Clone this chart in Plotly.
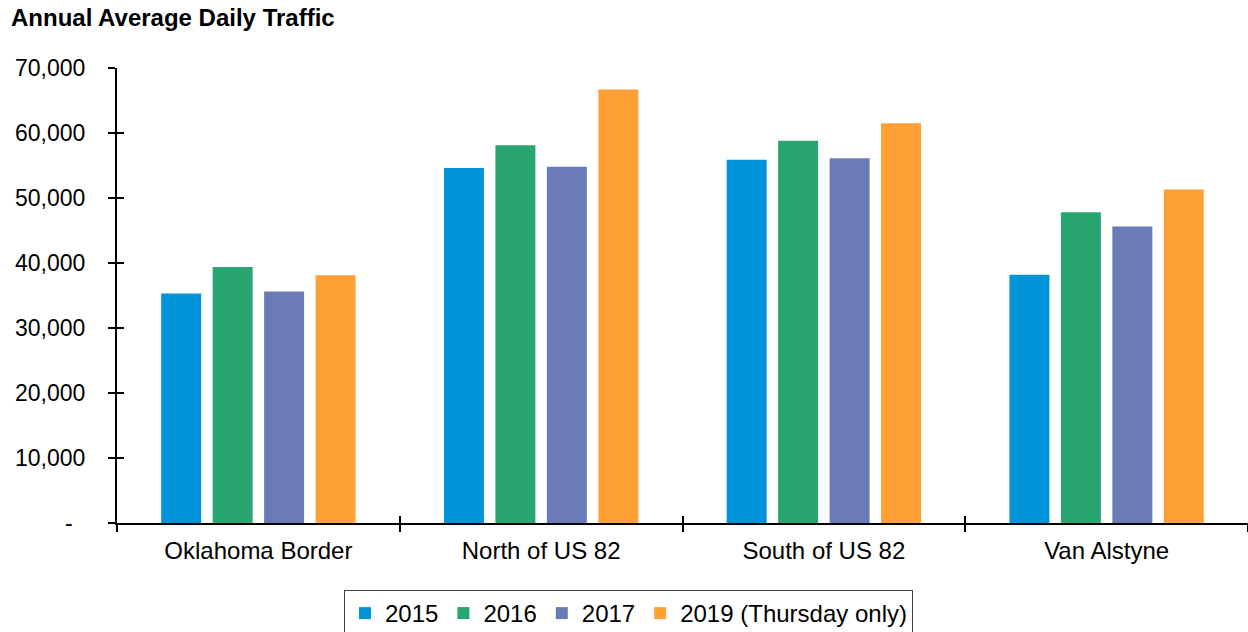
import plotly.graph_objects as go

# Count locations along the corridor
locations = ["Oklahoma Border", "North of US 82", "South of US 82", "Van Alstyne"]

# Annual average daily traffic per year
aadt_2015 = [35300, 54600, 55900, 38200]
aadt_2016 = [39400, 58100, 58800, 47800]
aadt_2017 = [35600, 54800, 56100, 45600]
aadt_2019 = [38100, 66700, 61500, 51300]

series_names = ["2015", "2016", "2017", "2019 (Thursday only)"]
series_colors = ["#0094d8", "#29a572", "#6b7bb6", "#ffa037"]

y_tick_vals = [0, 10000, 20000, 30000, 40000, 50000, 60000, 70000]
y_tick_text = ["-\u00a0\u00a0", "10,000", "20,000", "30,000", "40,000", "50,000", "60,000", "70,000"]

FONT = "Liberation Sans, Arial, sans-serif"

fig = go.Figure()
for name, vals, color in zip(series_names, [aadt_2015, aadt_2016, aadt_2017, aadt_2019], series_colors):
    fig.add_trace(go.Bar(name=name, x=locations, y=vals, marker=dict(color=color, line=dict(width=0))))

# Invisible trace carrying the overlay axes used for inward tick marks
fig.add_trace(go.Scatter(x=locations, y=[0] * len(locations), mode="none", showlegend=False,
                         hoverinfo="skip", xaxis="x2", yaxis="y2"))

fig.update_layout(
    width=1248, height=632,
    paper_bgcolor="white", plot_bgcolor="white",
    margin=dict(l=117, r=0, t=68, b=109),
    barmode="group", bargap=0.272, bargroupgap=0.223,
    font=dict(family=FONT, size=23, color="black"),
    title=dict(text="<b>Annual Average Daily Traffic</b>", font=dict(family=FONT, size=24, color="black"),
               xref="container", x=11 / 1248, xanchor="left",
               yref="container", y=1 - 18 / 632, yanchor="middle"),
    xaxis=dict(type="category", categoryarray=locations, range=[-0.5, 3.5],
               showline=True, linecolor="black", linewidth=2,
               ticks="outside", tickson="boundaries", ticklen=7, tickwidth=1.5, tickcolor="black",
               showgrid=False, tickfont=dict(size=24), ticklabelstandoff=5),
    yaxis=dict(range=[0, 70000], tickvals=y_tick_vals, ticktext=y_tick_text,
               showline=True, linecolor="black", linewidth=2,
               ticks="outside", ticklen=7, tickwidth=1.5, tickcolor="black",
               showgrid=False, zeroline=False, tickfont=dict(size=23), ticklabelstandoff=18),
    xaxis2=dict(type="category", categoryarray=locations, range=[-0.5, 3.5], overlaying="x",
                anchor="y2", showline=False, showgrid=False, showticklabels=False,
                ticks="inside", tickson="boundaries", ticklen=7, tickwidth=1.5, tickcolor="black"),
    yaxis2=dict(range=[0, 70000], tickvals=y_tick_vals, overlaying="y", anchor="x2", side="left",
                showline=False, showgrid=False, zeroline=False, showticklabels=False,
                ticks="inside", ticklen=7, tickwidth=1.5, tickcolor="black"),
    legend=dict(orientation="h", xref="container", x=344 / 1248, xanchor="left",
                yref="container", y=1 - 590 / 632, yanchor="top",
                bordercolor="#404040", borderwidth=1, font=dict(size=24),
                traceorder="normal", itemwidth=30),
    showlegend=True,
)

fig.write_html("out.html")
